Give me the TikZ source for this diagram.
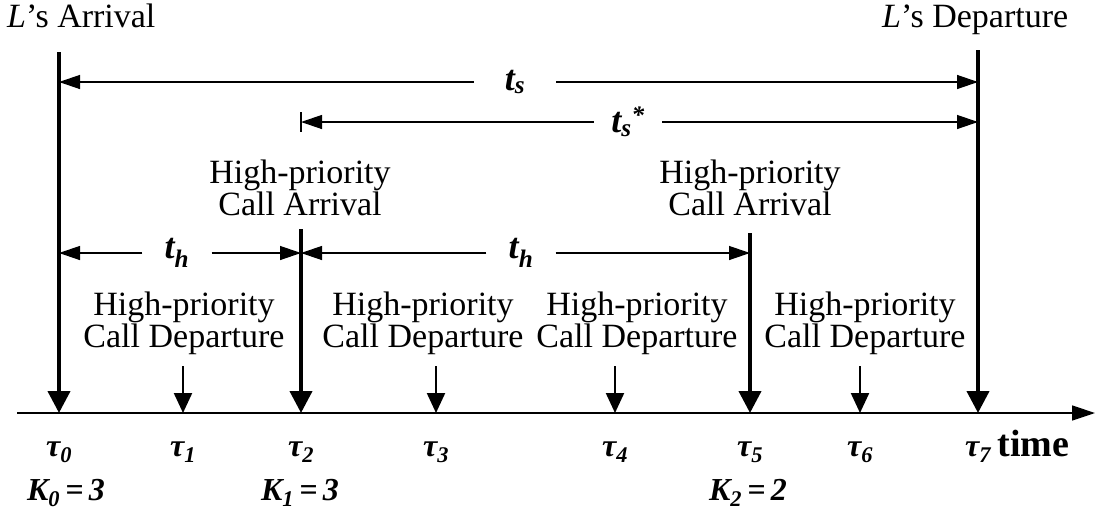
\documentclass[tikz,border=0pt]{standalone}
\usepackage{fontspec}
\setmainfont{Liberation Serif}
\usetikzlibrary{arrows.meta,positioning}

\tikzset{
  mainarrow/.style={line width=4pt, -{Triangle[length=22pt,width=22pt]}},
  callarrow/.style={line width=2.2pt, -{Triangle[length=20pt,width=18pt]}},
  spanarrow/.style={line width=1.3pt, -{Triangle[length=21pt,width=14pt]}},
  eventtext/.style={align=center, inner sep=0pt, font=\fontsize{34}{32}\selectfont},
  symtext/.style={inner sep=0pt, font=\fontsize{32}{34}\selectfont\bfseries\itshape},
  spantext/.style={symtext, font=\fontsize{36}{38}\selectfont\bfseries\itshape},
}

\begin{document}
\begin{tikzpicture}[x=1pt, y=-1pt]
  \useasboundingbox (0,0) rectangle (1099,515);

  % time axis
  \coordinate (axisstart) at (17,413);
  \coordinate (axisend) at (1095,413);
  \draw[line width=1.5pt, -{Triangle[length=23pt,width=15pt]}] (axisstart) -- (axisend);

  % instants on the axis
  \foreach \i/\x in {0/59,1/183,2/301,3/436,4/615,5/750,6/860,7/978} {
    \coordinate (e\i) at (\x,413);
    \node[symtext] (tau\i) at (\x,452) {τ\textsubscript{\i}};
  }
  \node[symtext, font=\fontsize{38}{40}\selectfont\bfseries, anchor=base west] (time) at ([xshift=6pt]tau7.base east) {time};

  % L's arrival and departure
  \coordinate (arrtop) at (59,52);
  \coordinate (deptop) at (978,50);
  \draw[mainarrow] (arrtop) -- (e0);
  \draw[mainarrow] (deptop) -- (e7);
  \node[eventtext, anchor=base west] (larr) at (7,27) {\textit{L}’s Arrival};
  \node[eventtext, anchor=base west] (ldep) at (882,27) {\textit{L}’s Departure};

  % high-priority call arrivals
  \coordinate (hi1top) at (301,229);
  \coordinate (hi2top) at (750,233);
  \draw[mainarrow] (hi1top) -- (e2);
  \draw[mainarrow] (hi2top) -- (e5);
  \node[eventtext] (hi1) at (300,188) {High-priority\\Call Arrival};
  \node[eventtext] (hi2) at (750,188) {High-priority\\Call Arrival};

  % high-priority call departures
  \foreach \i/\x in {1/184,3/423,4/637,6/865} {
    \node[eventtext] (dep\i) at (\x,323) {High-priority\\Call Departure};
    \draw[callarrow] ([yshift=47pt]e\i) -- (e\i);
  }

  % durations
  \node[spantext, minimum width=82pt] (ts) at (515,82) {t\textsubscript{s}};
  \draw[spanarrow] (ts) -- (ts -| arrtop);
  \draw[spanarrow] (ts) -- (ts -| deptop);

  \coordinate (tick) at (301,122);
  \draw[line width=1.3pt] ([yshift=10pt]tick) -- ([yshift=-10pt]tick);
  \node[spantext, minimum width=68pt] (tss) at (628,122) {t\textsubscript{s}\textsuperscript{*}};
  \draw[spanarrow] (tss) -- (tick);
  \draw[spanarrow] (tss) -- (tss -| deptop);

  \node[spantext, minimum width=69pt] (th1) at (177,253) {t\textsubscript{h}};
  \draw[spanarrow] (th1) -- (th1 -| arrtop);
  \draw[spanarrow] (th1) -- (th1 -| hi1top);
  \node[spantext, minimum width=69pt] (th2) at (521,253) {t\textsubscript{h}};
  \draw[spanarrow] (th2) -- (th2 -| hi1top);
  \draw[spanarrow] (th2) -- (th2 -| hi2top);

  % numbers of high-priority calls
  \node[symtext] (k0) at (66,493) {K\textsubscript{0}\,=\,3};
  \node[symtext] (k1) at (300,493) {K\textsubscript{1}\,=\,3};
  \node[symtext] (k2) at (748,493) {K\textsubscript{2}\,=\,2};
\end{tikzpicture}
\end{document}
